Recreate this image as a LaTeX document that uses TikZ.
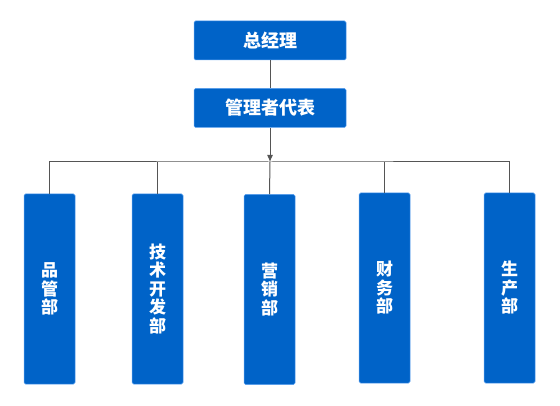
\documentclass[tikz,border=0pt]{standalone}
\usepackage{fontspec}
\newfontfamily\cjk{Noto Sans CJK SC}
\usetikzlibrary{arrows.meta}

\definecolor{boxblue}{HTML}{0063C8}
\definecolor{boxedge}{HTML}{5AA0F0}
\definecolor{linegray}{HTML}{555555}

\tikzset{
	headbox/.style={rectangle, rounded corners=1.5pt, fill=boxblue, draw=boxedge, line width=0.5pt,
		minimum width=152pt, minimum height=39pt, inner sep=0pt, text=white, font=\cjk\bfseries\fontsize{18}{20}\selectfont},
	deptbox/.style={rectangle, rounded corners=1.5pt, fill=boxblue, draw=boxedge, line width=0.5pt,
		minimum width=51pt, minimum height=190pt, inner sep=0pt, text=white, align=center,
		font=\cjk\bfseries\fontsize{17}{18.5}\selectfont},
	link/.style={draw=linegray, line width=1pt}
}

\begin{document}
\begin{tikzpicture}[x=1pt, y=-1pt]
		\useasboundingbox (0, 0) rectangle (560, 406);

		\node[headbox] (gm) at (270, 40.5) {总经理};
		\node[headbox] (rep) at (270, 108) {管理者代表};
		\coordinate (bus) at (270, 162);

		\node[deptbox] (quality) at (49.5, 289) {品\\管\\部};
		\node[deptbox] (tech) at (157.5, 289) {技\\术\\开\\发\\部};
		\node[deptbox] (sales) at (269.5, 289.5) {营\\销\\部};
		\node[deptbox] (finance) at (384.5, 288) {财\\务\\部};
		\node[deptbox] (prod) at (509.5, 288) {生\\产\\部};

		\draw[link] (gm) -- (rep);
		\draw[link, -{Latex[length=7pt, width=6pt]}] (rep) -- (bus);
		\draw[link] (quality.north) |- (bus) -| (prod.north);
		\draw[link] (bus) -- (sales.north);
		\draw[link] (tech.north) -- (tech.north |- bus);
		\draw[link] (finance.north) -- (finance.north |- bus);
	\end{tikzpicture}
\end{document}
